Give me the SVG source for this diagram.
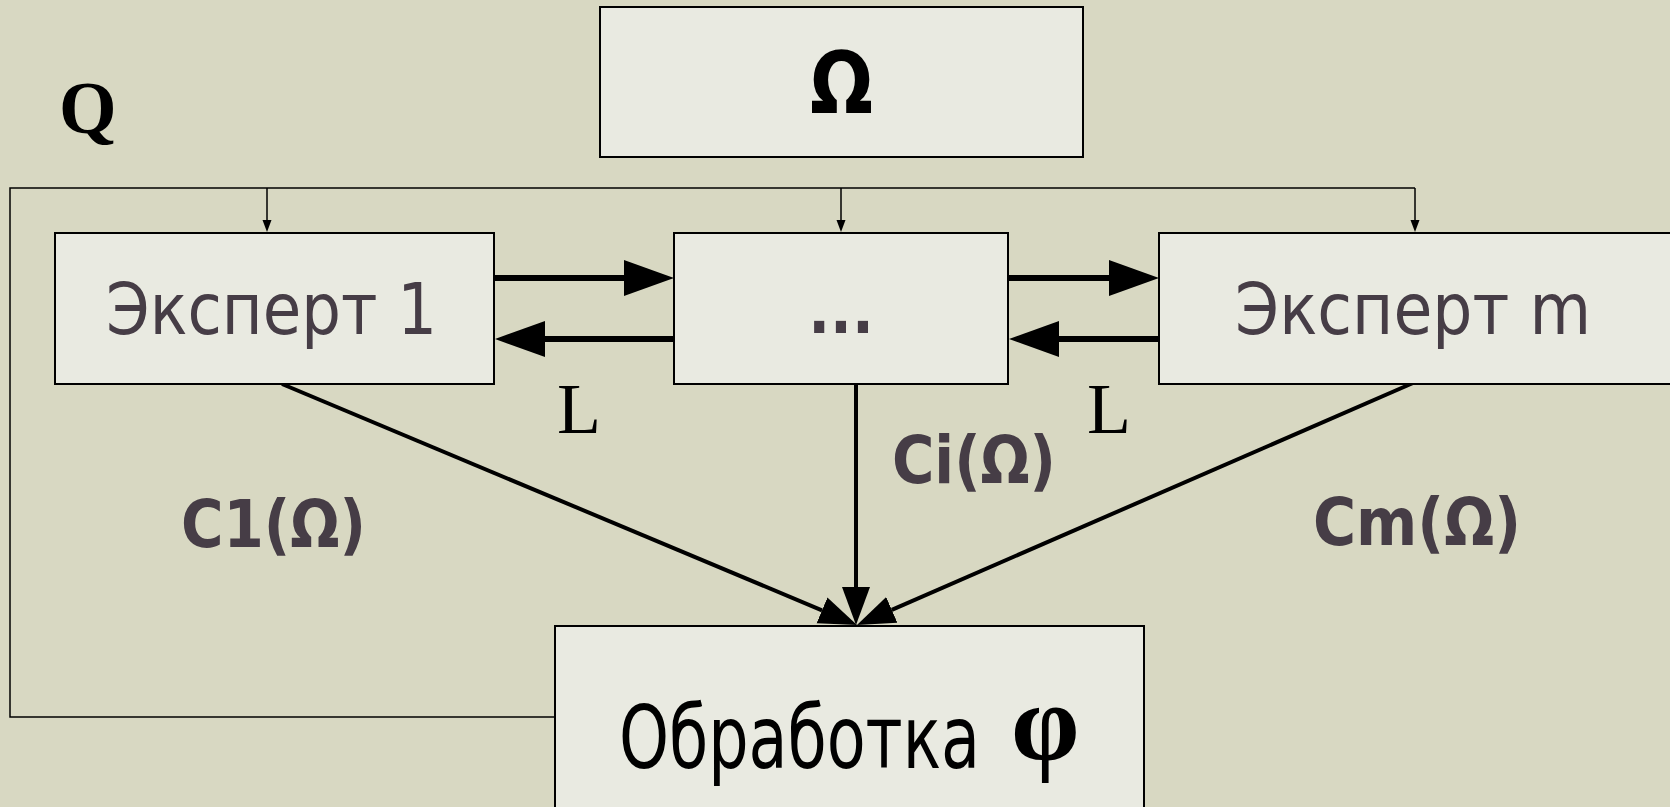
<svg xmlns="http://www.w3.org/2000/svg" width="1670" height="807" viewBox="0 0 1670 807">
<style>
.box{fill:#e9eae1;stroke:#000;stroke-width:2}
.thin{fill:none;stroke:#000;stroke-width:1.5}
.thick{fill:none;stroke:#000;stroke-width:6}
.diag{fill:none;stroke:#000;stroke-width:4}
.sans{font-family:"DejaVu Sans Condensed","DejaVu Sans",sans-serif;fill:#463d46}
.lbl{font-family:"DejaVu Sans Condensed","DejaVu Sans",sans-serif;font-weight:bold;fill:#463d46;font-size:66px}
.serif{font-family:"Liberation Serif","Times New Roman",serif;fill:#000}
</style>
<defs>
<marker id="hThin" markerUnits="userSpaceOnUse" viewBox="0 -6 12 12" markerWidth="12" markerHeight="12" refX="0" refY="0" orient="auto">
<path d="M0,-4.5 L12,0 L0,4.5 z" fill="#000"/>
</marker>
<marker id="hThick" markerUnits="userSpaceOnUse" viewBox="0 -20 50 40" markerWidth="50" markerHeight="40" refX="0" refY="0" orient="auto">
<path d="M0,-18 L50,0 L0,18 z" fill="#000"/>
</marker>
<marker id="hDiag" markerUnits="userSpaceOnUse" viewBox="0 -15 38 30" markerWidth="38" markerHeight="30" refX="0" refY="0" orient="auto">
<path d="M0,-14 L38,0 L0,14 z" fill="#000"/>
</marker>
</defs>
<rect width="1670" height="807" fill="#d8d8c2"/>

<g id="connectors">
<path class="thin" d="M554,717 H10 V188 H1415"/>
<path class="thin" d="M267,188 V220" marker-end="url(#hThin)"/>
<path class="thin" d="M841,188 V220" marker-end="url(#hThin)"/>
<path class="thin" d="M1415,188 V220" marker-end="url(#hThin)"/>
<path class="thick" d="M494,278 H624" marker-end="url(#hThick)"/>
<path class="thick" d="M674,339 H545" marker-end="url(#hThick)"/>
<path class="thick" d="M1008,278 H1109" marker-end="url(#hThick)"/>
<path class="thick" d="M1159,339 H1059" marker-end="url(#hThick)"/>
<path class="diag" d="M282,384 L822,610.3" marker-end="url(#hDiag)"/>
<path class="diag" d="M856,384 V587" marker-end="url(#hDiag)"/>
<path class="diag" d="M1413,383 L891.8,609.8" marker-end="url(#hDiag)"/>
<text class="serif" x="59" y="133" font-size="74" font-weight="bold">Q</text>
<text class="serif" x="557" y="433" font-size="72">L</text>
<text class="serif" x="1087" y="433" font-size="72">L</text>
<text class="lbl" x="181" y="547" textLength="185" lengthAdjust="spacingAndGlyphs">C1(Ω)</text>
<text class="lbl" x="892" y="483" textLength="164" lengthAdjust="spacingAndGlyphs">Ci(Ω)</text>
<text class="lbl" x="1313" y="545" textLength="208" lengthAdjust="spacingAndGlyphs">Cm(Ω)</text>
</g>

<g id="node-omega">
<rect class="box" x="600" y="7" width="483" height="150"/>
<text x="810" y="113" font-family="DejaVu Sans Condensed, DejaVu Sans, sans-serif" font-weight="bold" font-size="86" fill="#000" textLength="63" lengthAdjust="spacingAndGlyphs">Ω</text>
</g>

<g id="node-expert1">
<rect class="box" x="55" y="233" width="439" height="151"/>
<text class="sans" x="106" y="334" font-size="72" textLength="331" lengthAdjust="spacingAndGlyphs">Эксперт 1</text>
</g>

<g id="node-dots">
<rect class="box" x="674" y="233" width="334" height="151"/>
<text class="sans" x="841" y="333" font-size="64" font-weight="bold" text-anchor="middle">...</text>
</g>

<g id="node-expertm">
<rect class="box" x="1159" y="233" width="530" height="151"/>
<text class="sans" x="1235" y="334" font-size="72" textLength="356" lengthAdjust="spacingAndGlyphs">Эксперт m</text>
</g>

<g id="node-processing">
<rect class="box" x="555" y="626" width="589" height="200"/>
<text x="619" y="768" font-family="DejaVu Sans Condensed, DejaVu Sans, sans-serif" font-size="87" fill="#000" textLength="361" lengthAdjust="spacingAndGlyphs">Обработка</text>
<text class="serif" x="1011" y="760" font-size="110" font-weight="bold">φ</text>
</g>
</svg>
